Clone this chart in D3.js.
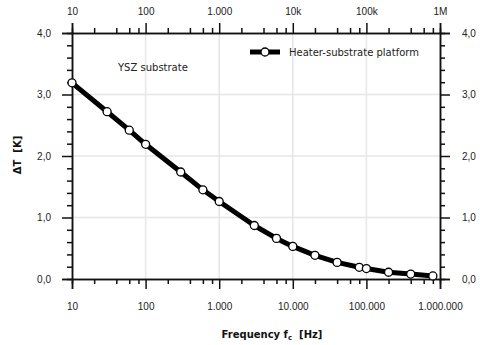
<!DOCTYPE html>
<html>
<head>
<meta charset="utf-8">
<script src="https://cdn.jsdelivr.net/npm/d3@7"></script>
<style>
  body { margin: 0; background: #fff; }
  svg { display: block; font-family: "DejaVu Sans", sans-serif; }
  .tick text { font-size: 10px; fill: #222; }
</style>
</head>
<body>
<svg id="chart" width="480" height="345"></svg>
<script>
// Measured temperature oscillation of the heater on the YSZ substrate
const frequencies = [10, 30, 60, 100, 300, 600, 1000, 3000, 6000, 10000, 20000, 40000, 80000, 100000, 200000, 400000, 800000];
const deltaT = [3.19, 2.72, 2.42, 2.19, 1.74, 1.45, 1.26, 0.87, 0.66, 0.53, 0.385, 0.27, 0.19, 0.17, 0.11, 0.08, 0.05];

const decadeTicks = [10, 100, 1000, 10000, 100000, 1000000];
const bottomTickLabels = ["10", "100", "1.000", "10.000", "100.000", "1.000.000"];
const topTickLabels = ["10", "100", "1.000", "10k", "100k", "1M"];
const yTicks = [0, 1, 2, 3, 4];
const yTickLabels = ["0,0", "1,0", "2,0", "3,0", "4,0"];
const seriesName = "Heater-substrate platform";
const annotation = "YSZ substrate";

const svg = d3.select("#chart");
const plotLeft = 72, plotRight = 440, plotTop = 33, plotBottom = 279;

const x = d3.scaleLog().domain([10, 1e6]).range([plotLeft, plotRight]);
const y = d3.scaleLinear().domain([0, 4]).range([plotBottom, plotTop]);

// minor ticks at 2,4,6,8 within each decade
const minorX = [];
for (let d = 10; d < 1e6; d *= 10) [2, 4, 6, 8].forEach(m => minorX.push(d * m));
const minorY = d3.range(0, 4.01, 0.2).filter(v => Math.abs(v - Math.round(v)) > 1e-6);

// grid
const grid = svg.append("g").attr("stroke", "#e6e6e6").attr("stroke-width", 1.5);
decadeTicks.slice(1, -1).forEach(t => grid.append("line")
  .attr("x1", x(t)).attr("x2", x(t)).attr("y1", plotTop).attr("y2", plotBottom));
yTicks.slice(1, -1).forEach(t => grid.append("line")
  .attr("x1", plotLeft).attr("x2", plotRight).attr("y1", y(t)).attr("y2", y(t)));

function styleAxis(g) {
  g.selectAll(".domain").attr("stroke", "#111").attr("stroke-width", 1.5);
  g.selectAll(".tick line").attr("stroke", "#111").attr("stroke-width", 1.5);
}

// minor tick axes
const minorAxes = [
  [d3.axisBottom(x).tickValues(minorX), `translate(0,${plotBottom})`],
  [d3.axisTop(x).tickValues(minorX), `translate(0,${plotTop})`],
  [d3.axisLeft(y).tickValues(minorY), `translate(${plotLeft},0)`],
  [d3.axisRight(y).tickValues(minorY), `translate(${plotRight},0)`]
];
minorAxes.forEach(([ax, tr]) => {
  const g = svg.append("g").attr("transform", tr)
    .call(ax.tickSize(5).tickFormat(""));
  styleAxis(g);
});

// major axes
const gx = svg.append("g").attr("transform", `translate(0,${plotBottom})`)
  .call(d3.axisBottom(x).tickValues(decadeTicks).tickSize(10).tickPadding(14)
    .tickFormat((d, i) => bottomTickLabels[i]));
styleAxis(gx);
const gxt = svg.append("g").attr("transform", `translate(0,${plotTop})`)
  .call(d3.axisTop(x).tickValues(decadeTicks).tickSize(10).tickPadding(8)
    .tickFormat((d, i) => topTickLabels[i]));
styleAxis(gxt);
const gy = svg.append("g").attr("transform", `translate(${plotLeft},0)`)
  .call(d3.axisLeft(y).tickValues(yTicks).tickSize(10).tickPadding(11)
    .tickFormat((d, i) => yTickLabels[i]));
styleAxis(gy);
const gyr = svg.append("g").attr("transform", `translate(${plotRight},0)`)
  .call(d3.axisRight(y).tickValues(yTicks).tickSize(10).tickPadding(12)
    .tickFormat((d, i) => yTickLabels[i]));
styleAxis(gyr);

// axis titles
const xt = svg.append("text").attr("x", 272).attr("y", 338)
  .attr("text-anchor", "middle").attr("font-size", 10).attr("font-weight", "bold").attr("fill", "#111");
xt.append("tspan").text("Frequency f");
xt.append("tspan").attr("font-size", 7).attr("dy", 2).text("c");
xt.append("tspan").attr("dy", -2).text("\u00a0\u00a0[Hz]");

svg.append("text").attr("transform", "translate(21,155) rotate(-90)")
  .attr("text-anchor", "middle").attr("font-size", 10).attr("font-weight", "bold").attr("fill", "#111")
  .text("\u0394T\u00a0\u00a0[K]");

// data line and markers
const data = frequencies.map((f, i) => ({ f, v: deltaT[i] }));
svg.append("path").datum(data)
  .attr("fill", "none").attr("stroke", "#000").attr("stroke-width", 5).attr("stroke-linejoin", "round")
  .attr("d", d3.line().x(d => x(d.f)).y(d => y(d.v)));
svg.append("g").selectAll("circle").data(data).join("circle")
  .attr("cx", d => x(d.f)).attr("cy", d => y(d.v)).attr("r", 4)
  .attr("fill", "#fff").attr("stroke", "#000").attr("stroke-width", 1.3);

// legend
const lg = svg.append("g").attr("transform", "translate(250,52)");
lg.append("line").attr("x1", 0).attr("x2", 30).attr("stroke", "#000").attr("stroke-width", 5);
lg.append("circle").attr("cx", 15).attr("r", 4).attr("fill", "#fff").attr("stroke", "#000").attr("stroke-width", 1.3);
lg.append("text").attr("x", 39).attr("y", 3.5).attr("font-size", 10).attr("fill", "#222").text(seriesName);

svg.append("text").attr("x", 118).attr("y", 71).attr("font-size", 10).attr("fill", "#222").text(annotation);
</script>
</body>
</html>
